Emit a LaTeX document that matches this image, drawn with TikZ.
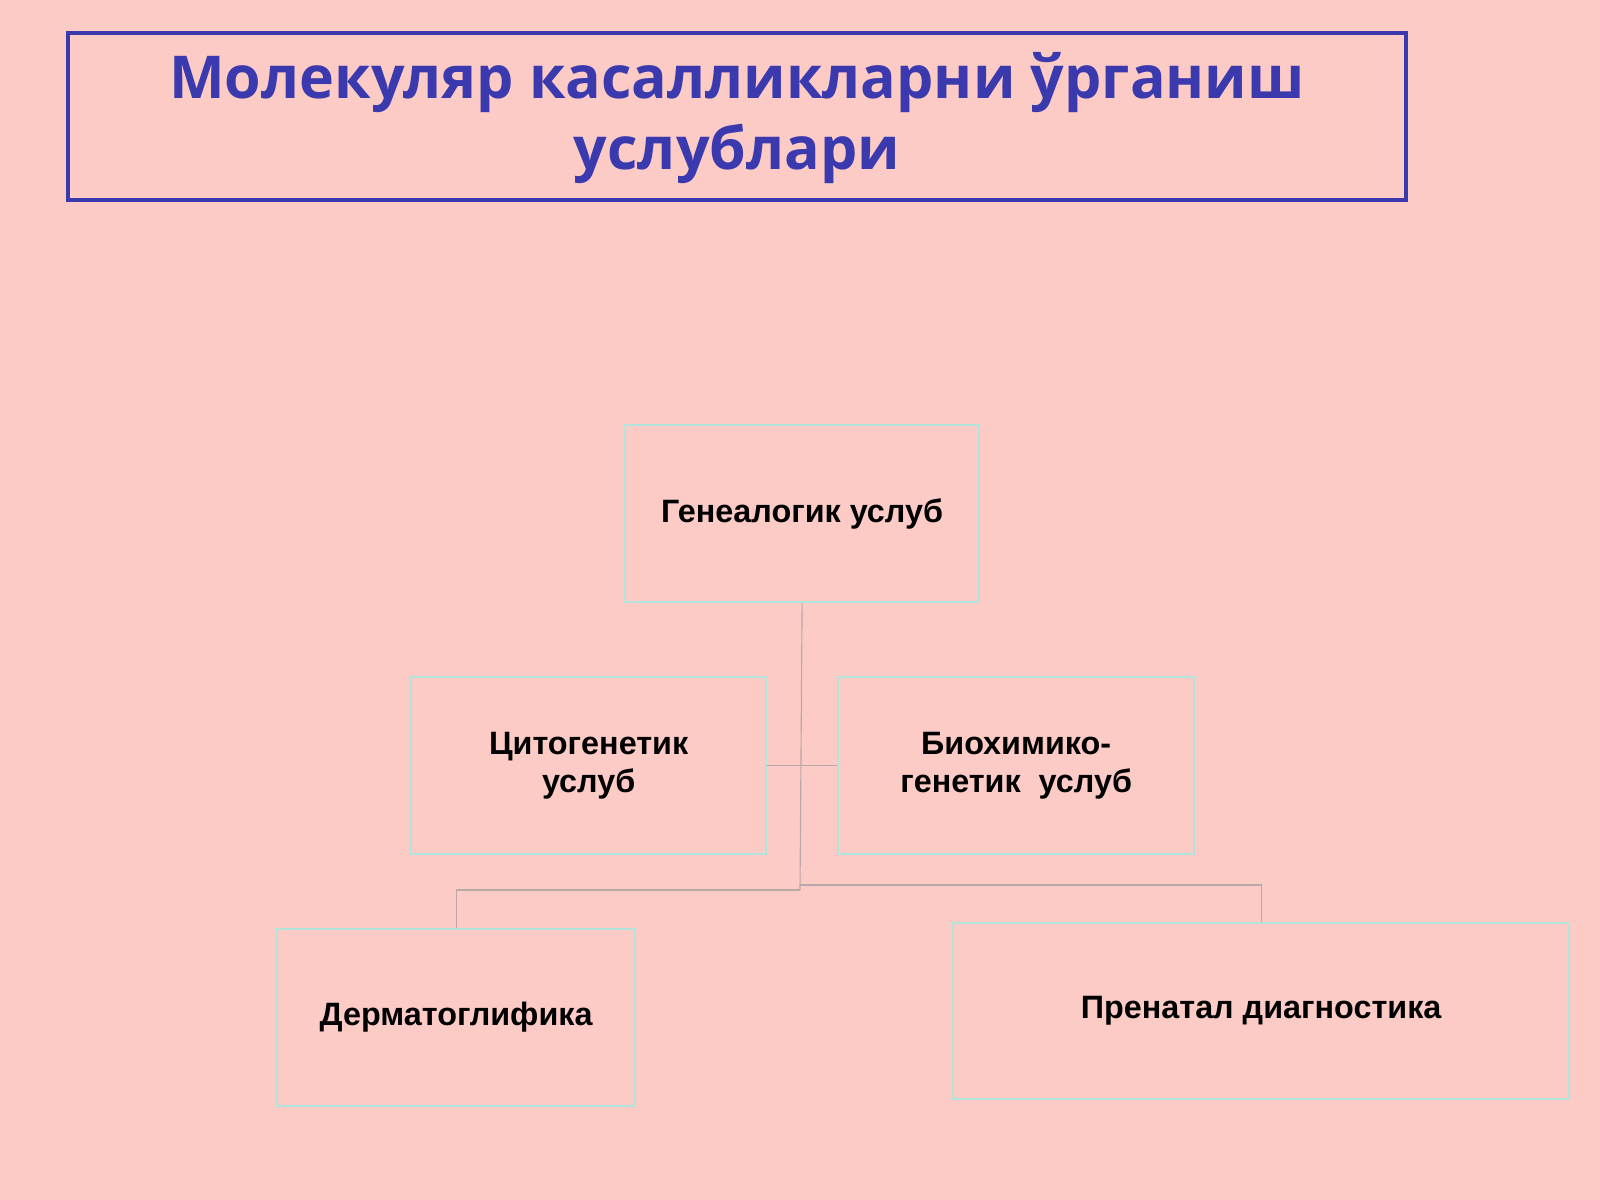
\documentclass[tikz,border=0pt]{standalone}
\usepackage{fontspec}
\setmainfont{Liberation Sans}
\newfontfamily\titlefont{Open Sans}
\definecolor{bgpink}{HTML}{FCCBC6}
\definecolor{titleblue}{HTML}{3A3AAE}
\definecolor{boxline}{HTML}{B0E4DC}
\definecolor{connline}{HTML}{B8A8A8}
\tikzset{
  method/.style={draw=boxline,line width=1.6pt,fill=bgpink,inner sep=0pt,
    font=\fontsize{23}{27}\selectfont\bfseries,align=center,anchor=north west},
  conn/.style={draw=connline,line width=0.8pt}
}
\begin{document}
\begin{tikzpicture}[x=0.025cm,y=-0.025cm]
%background
\fill[bgpink](0,0)rectangle(1600,1200);
\useasboundingbox(0,0)rectangle(1600,1200);

%title
\draw[titleblue,line width=2.2pt](68,33)rectangle(1406,200);
\node[font=\titlefont\fontsize{42}{50}\selectfont\bfseries,text=titleblue,align=center](title)at(737,118)
  {Молекуляр касалликларни ўрганиш\\услублари};

%boxes
\node[method,minimum width=354*0.025cm,minimum height=177*0.025cm](gen)at(624,424){Генеалогик услуб};
\node[method,minimum width=355*0.025cm,minimum height=177*0.025cm](cyto)at(410,676){Цитогенетик\\услуб};
\node[method,minimum width=356*0.025cm,minimum height=177*0.025cm](bio)at(837,676){Биохимико-\\генетик\ \ услуб};
\node[method,minimum width=358*0.025cm,minimum height=177*0.025cm](derm)at(276,928){Дерматоглифика};
\node[method,minimum width=616*0.025cm,minimum height=176*0.025cm](pren)at(952,922){Пренатал диагностика};

%connectors
\coordinate(hub)at(800,890);
\coordinate(hubr)at(800,885);
\draw[conn](gen.south)--(hub);
\draw[conn](cyto.east)--(bio.west);
\draw[conn](hub)-|(derm.north);
\draw[conn](hubr)-|(pren.north);
\end{tikzpicture}
\end{document}
